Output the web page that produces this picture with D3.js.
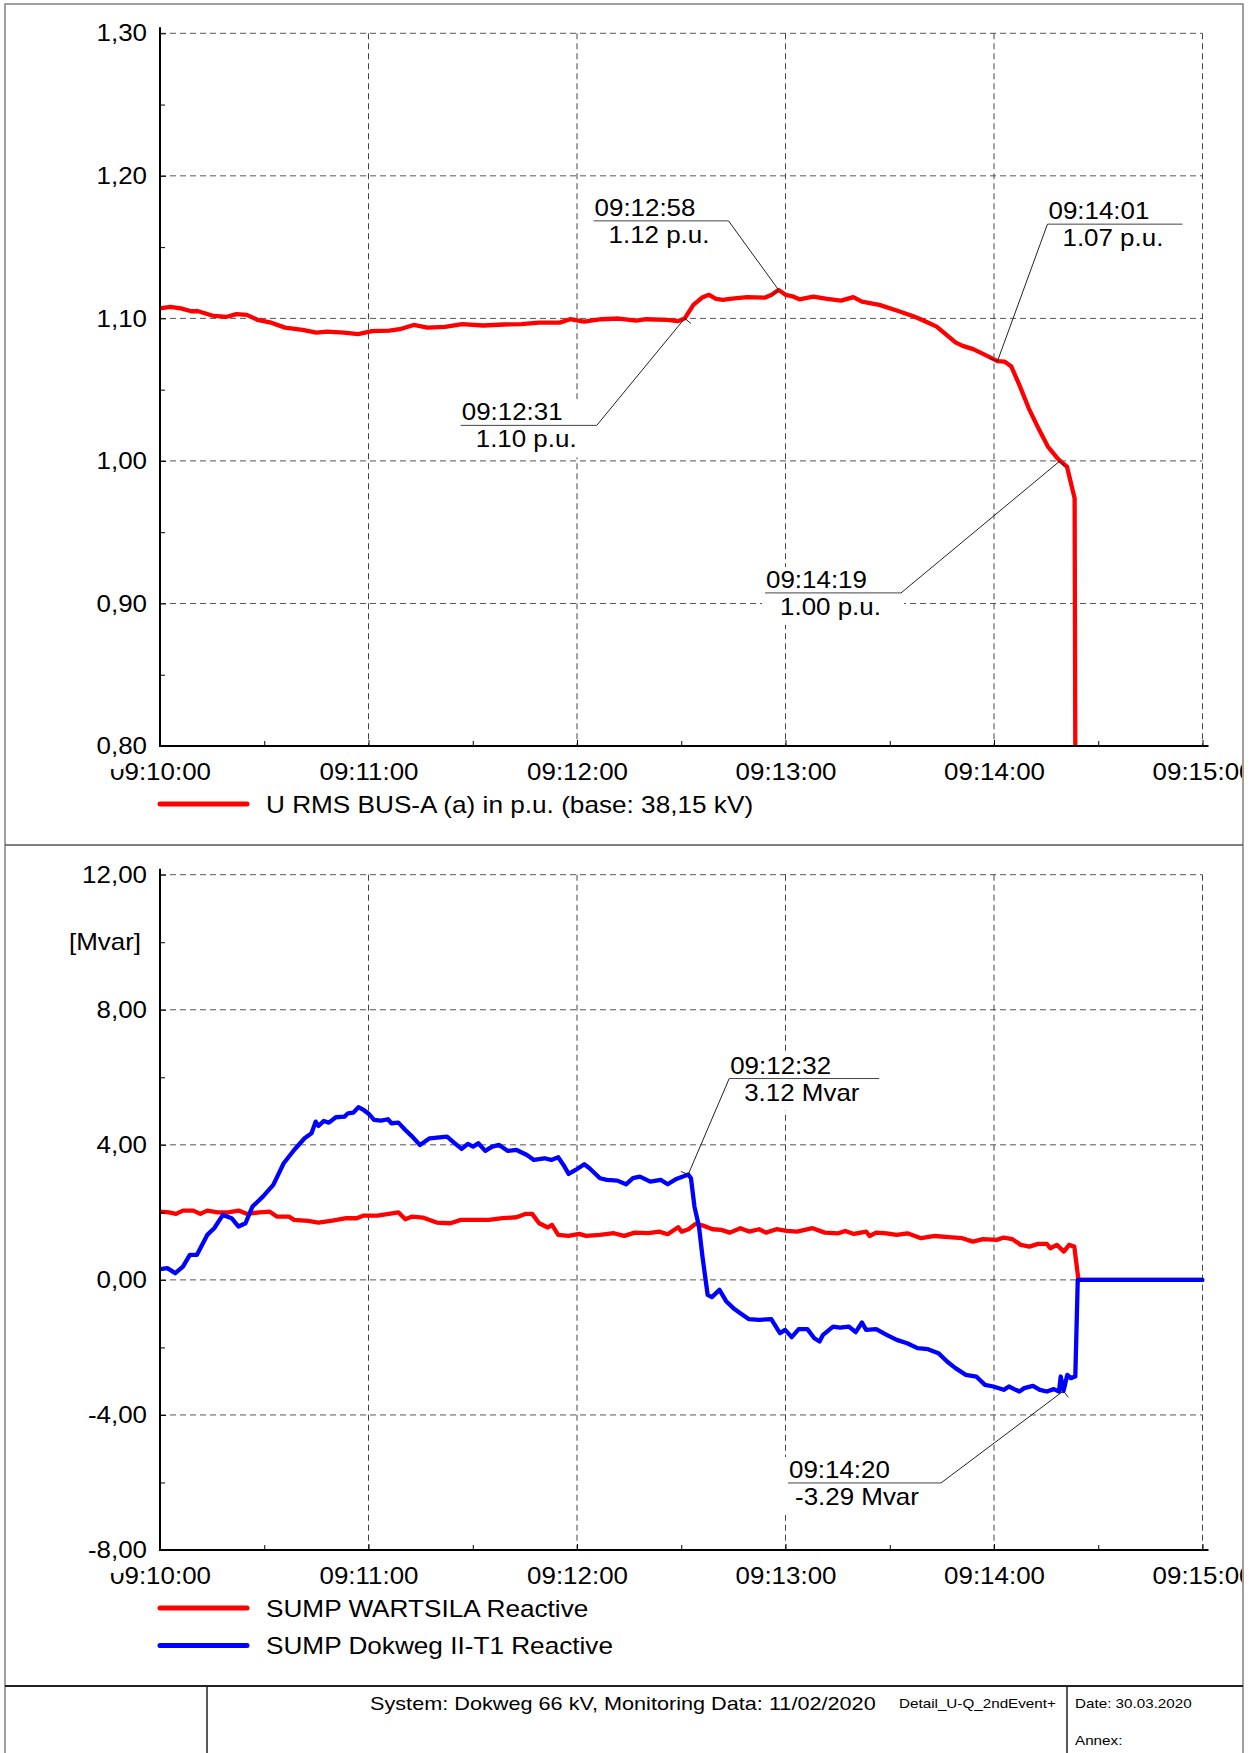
<!DOCTYPE html>
<html>
<head>
<meta charset="utf-8">
<script src="https://cdn.jsdelivr.net/npm/d3@7"></script>
<style>
  html, body { margin: 0; padding: 0; background: #fff; }
  svg { display: block; font-family: "Liberation Sans", Arial, Helvetica, sans-serif; }
</style>
</head>
<body>
<svg id="chart" width="1256" height="1753"></svg>
<script>
// ---------------------------------------------------------------------------
// Data: monitoring record 11/02/2020, 09:10:00 - 09:15:00
// Times are seconds after 09:10:00.
// ---------------------------------------------------------------------------
const recordDate = "2020-02-11";
const startClock = "09:10:00";
const endClock = "09:15:00";
const xTickLabels = ["09:10:00", "09:11:00", "09:12:00", "09:13:00", "09:14:00", "09:15:00"];
const voltTickValues = [0.80, 0.90, 1.00, 1.10, 1.20, 1.30];
const reactiveTickValues = [-8, -4, 0, 4, 8, 12];

// U RMS BUS-A (a) in p.u.
const voltT = [0, 3, 6, 9, 11, 15, 19, 22, 25, 28, 32, 36, 41, 45, 48, 53, 57, 61, 66, 69,
  73, 77, 82, 87, 93, 99, 104, 109, 115, 118, 122, 127, 132, 137, 140, 146, 149, 151, 153.5, 156,
  158, 160, 162, 164, 166, 169, 174, 176, 178, 180, 182, 184, 188, 192, 196, 199.5, 202, 207, 212, 217, 220, 223.5,
  226, 229, 231, 234, 237, 241, 243, 245, 247.5, 250, 253, 255.5, 258, 259, 261, 263.2, 263.4];
const voltV = [1.107, 1.108, 1.107, 1.105, 1.105, 1.102, 1.101, 1.103, 1.1025, 1.099, 1.097, 1.0935, 1.092, 1.090, 1.0907, 1.090, 1.089, 1.091, 1.0914, 1.0924,
  1.0954, 1.0935, 1.094, 1.096, 1.095, 1.0957, 1.096, 1.097, 1.097, 1.0994, 1.0978, 1.0994, 1.0999, 1.0984, 1.0994, 1.0989, 1.098, 1.100, 1.1095, 1.1146,
  1.1165, 1.1137, 1.113, 1.1137, 1.1142, 1.1149, 1.1145, 1.1165, 1.120, 1.1165, 1.1155, 1.1134, 1.1153, 1.1137, 1.1125, 1.1149, 1.1118, 1.1095, 1.1055, 1.1013, 1.0982, 1.0942,
  1.0891, 1.083, 1.0807, 1.0784, 1.0749, 1.070, 1.0697, 1.0662, 1.0521, 1.0369, 1.0218, 1.0101, 1.0026, 1.000, 0.996, 0.9738, 0.80];

// SUMP WARTSILA Reactive [Mvar]
const wartsilaT = [0, 2.6, 4.6, 6.6, 9.6, 11.6, 13.6, 16.6, 19.6, 22.6, 25.1, 28.6, 31.6, 33.6, 37.1, 38.6, 42.6, 45.6, 49.6, 53.6,
  56.6, 58.6, 62.6, 68.6, 70.6, 72.6, 75.6, 79.6, 83.6, 86.6, 90.6, 94.6, 98.6, 102.6, 105.1, 107.1, 109.1, 111.6, 112.8, 114.6,
  117.6, 120.6, 122.6, 126.6, 130.6, 133.6, 136.6, 140.6, 143.6, 146.1, 149.1, 150.1, 152.1, 154.1, 156.6, 159, 161.5, 164, 167, 169.5,
  172.4, 174.4, 177.4, 180.3, 183.3, 187.8, 191.3, 195.2, 197.2, 199.7, 203.2, 204.2, 206.1, 209.1, 212, 215.1, 219, 223, 226.9, 230.9,
  233.9, 236.8, 240.8, 242.8, 245.3, 247.7, 250.2, 252.7, 255.2, 256.2, 258.1, 260.1, 261.6, 263.1, 264.3, 300];
const wartsilaV = [2.02, 2.00, 1.954, 2.052, 2.052, 1.954, 2.052, 2.00, 2.00, 2.052, 1.954, 2.00, 2.02, 1.874, 1.874, 1.776, 1.747, 1.697, 1.756, 1.826,
  1.826, 1.904, 1.904, 2.00, 1.796, 1.874, 1.845, 1.697, 1.677, 1.776, 1.776, 1.776, 1.826, 1.855, 1.954, 1.954, 1.677, 1.55, 1.628, 1.332,
  1.303, 1.362, 1.303, 1.332, 1.382, 1.303, 1.40, 1.382, 1.43, 1.353, 1.56, 1.43, 1.50, 1.658, 1.599, 1.50, 1.48, 1.40, 1.53, 1.43,
  1.50, 1.40, 1.50, 1.45, 1.43, 1.53, 1.40, 1.38, 1.45, 1.36, 1.43, 1.30, 1.40, 1.38, 1.33, 1.38, 1.234, 1.30, 1.264, 1.234,
  1.134, 1.205, 1.184, 1.253, 1.205, 1.036, 0.986, 1.066, 1.066, 0.938, 1.036, 0.838, 1.036, 0.986, 0, 0];

// SUMP Dokweg II-T1 Reactive [Mvar]
const dokwegT = [0, 2.1, 4.4, 6.6, 8.6, 10.6, 13.6, 15.6, 18.1, 20.6, 22.6, 24.6, 26.6, 29.6, 32.6, 35.6, 38.6, 41.6, 43.6, 44.8,
  45.6, 47.1, 48.6, 50.6, 53.1, 54.1, 55.6, 57.1, 58.6, 60.1, 61.6, 63.6, 65.6, 66.6, 68.6, 70.6, 72.6, 74.8, 77.6, 82.6,
  84.6, 86.8, 88.6, 90.1, 91.6, 93.6, 95.6, 97.6, 100.1, 102.6, 105.6, 107.6, 110.6, 112.6, 114.6, 116.1, 117.6, 119.6, 122.1, 123.6,
  126.6, 128.6, 131.6, 134.1, 136.1, 138.1, 141.1, 144.1, 146.1, 148.6, 150.5, 152, 152.8, 153.8, 155.1, 156.1, 157.6, 158.8, 161, 163,
  165, 167, 169.5, 172.4, 175.9, 178.4, 179.9, 181.8, 183.8, 186.3, 188.3, 189.8, 190.8, 193.7, 195.7, 198.2, 200.2, 202, 203.2, 206.1,
  209.1, 212, 215, 218, 221, 224, 226.5, 228.9, 231.9, 234.9, 237.4, 239.8, 242.8, 244.3, 245.8, 247.3, 248.7, 251.2, 253.2, 255.2,
  257.2, 258.7, 259.2, 260, 261.1, 262.1, 263.4, 264.1, 300];
const dokwegV = [0.317, 0.346, 0.198, 0.395, 0.74, 0.74, 1.332, 1.53, 1.924, 1.826, 1.579, 1.677, 2.17, 2.466, 2.812, 3.454, 3.848, 4.194, 4.342, 4.687,
  4.559, 4.707, 4.657, 4.816, 4.835, 4.934, 4.953, 5.112, 5.033, 4.914, 4.737, 4.716, 4.757, 4.639, 4.657, 4.44, 4.243, 3.997, 4.194, 4.243,
  4.065, 3.878, 4.026, 3.946, 4.047, 3.819, 3.946, 3.997, 3.819, 3.848, 3.70, 3.552, 3.602, 3.552, 3.632, 3.404, 3.138, 3.256, 3.424, 3.306,
  3.011, 2.96, 2.94, 2.832, 3.011, 3.058, 2.911, 2.96, 2.832, 2.99, 3.06, 3.12, 3.01, 2.17, 1.58, 0.69, -0.444, -0.512, -0.296, -0.642,
  -0.838, -0.986, -1.164, -1.184, -1.164, -1.578, -1.48, -1.697, -1.46, -1.46, -1.727, -1.826, -1.628, -1.382, -1.411, -1.382, -1.549, -1.263, -1.48, -1.46,
  -1.628, -1.776, -1.875, -2.022, -2.052, -2.17, -2.418, -2.614, -2.812, -2.862, -3.108, -3.158, -3.256, -3.158, -3.236, -3.306, -3.206, -3.138, -3.256, -3.306,
  -3.236, -3.306, -2.862, -3.29, -2.812, -2.91, -2.862, 0, 0];

// Marked readings
const voltMarkTimes = ["09:12:58", "09:14:01", "09:12:31", "09:14:19"];
const voltMarkValues = [1.12, 1.07, 1.10, 1.00];
const reactiveMarkTimes = ["09:12:32", "09:14:20"];
const reactiveMarkValues = [3.12, -3.29];

// Text
const voltLegend = "U RMS BUS-A (a) in p.u. (base: 38,15 kV)";
const reactiveLegend = ["SUMP WARTSILA Reactive", "SUMP Dokweg II-T1 Reactive"];
const footerMain = "System: Dokweg 66 kV, Monitoring Data: 11/02/2020";
const footerDoc = "Detail_U-Q_2ndEvent+";
const footerDate = "Date: 30.03.2020";
const footerAnnex = "Annex:";

// ---------------------------------------------------------------------------
// Layout / style
// ---------------------------------------------------------------------------
const RED = "#ff0000", BLUE = "#0000ff";
const FONT = 24;
const parseClock = d3.timeParse("%Y-%m-%d %H:%M:%S");
const clock = s => parseClock(recordDate + " " + s);
const t0 = clock(startClock);
const at = s => new Date(t0.getTime() + s * 1000);
const fmtClock = d3.timeFormat("%H:%M:%S");
const fmtComma = d3.formatLocale({decimal: ",", thousands: ".", grouping: [3], currency: ["", ""], minus: "-"}).format(".2f");
const fmtDot = d3.formatLocale({decimal: ".", thousands: ",", grouping: [3], currency: ["", ""], minus: "-"}).format(".2f");

const svg = d3.select("#chart");
const W = 1256, H = 1753;
const frameL = 5, frameR = 1243, frameT = 4;

const x = d3.scaleTime().domain([t0, clock(endClock)]).range([160, 1202.5]);
const xMajor = xTickLabels.map(clock);
const xMinor = d3.range(30, 300, 60).map(at);

const yVolt = d3.scaleLinear().domain([0.8, 1.3]).range([746, 33.3]);
const yReact = d3.scaleLinear().domain([-8, 12]).range([1550, 874.7]);

// clip everything to the inside of the sheet frame
svg.append("defs").append("clipPath").attr("id", "sheet")
  .append("rect").attr("x", frameL).attr("y", frameT).attr("width", frameR - frameL - 1).attr("height", H);
const root = svg.append("g").attr("clip-path", "url(#sheet)");

function drawPanel(opt) {
  const g = root.append("g");
  const y = opt.y;
  const [yb, yt] = y.range();
  const [xl, xr] = x.range();

  // grid
  g.append("g").selectAll("line").data(opt.grid).join("line")
    .attr("x1", xl).attr("x2", xr).attr("y1", d => y(d)).attr("y2", d => y(d))
    .attr("stroke", "#555").attr("stroke-width", 1).attr("stroke-dasharray", "6,4");
  g.append("g").selectAll("line").data(xMajor.slice(1)).join("line")
    .attr("x1", d => x(d)).attr("x2", d => x(d)).attr("y1", yt).attr("y2", yb)
    .attr("stroke", "#444").attr("stroke-width", 1).attr("stroke-dasharray", "6,4");

  // callout geometry
  const marks = opt.marks.map((m, i) => {
    const L = opt.layout[i];
    const px = x(clock(m.time)), py = y(m.value);
    const x0 = px + L.dx, yU = py + L.dy;
    return {...m, px, py, x0, yU, w: L.w, from: L.from};
  });

  // white plates behind callout text
  g.append("g").selectAll("rect").data(marks).join("rect")
    .attr("x", d => d.x0 - 3).attr("y", d => d.yU - 26)
    .attr("width", d => d.w + 6).attr("height", 58).attr("fill", "#fff");

  // series
  const clipId = "plot" + opt.id;
  g.append("clipPath").attr("id", clipId).append("rect")
    .attr("x", xl).attr("y", yt - 4).attr("width", xr - xl + 2).attr("height", yb - yt + 4);
  const line = d3.line().x(d => x(at(d[0]))).y(d => y(d[1]));
  opt.series.forEach(s => {
    g.append("path").datum(d3.zip(s.t, s.v))
      .attr("clip-path", `url(#${clipId})`)
      .attr("d", line).attr("fill", "none").attr("stroke", s.color)
      .attr("stroke-width", 4.3).attr("stroke-linejoin", "round").attr("stroke-linecap", "round");
  });

  // axes
  const ya = g.append("g").attr("transform", `translate(${xl},0)`)
    .call(d3.axisLeft(y).tickValues(opt.yTicks).tickSize(-6).tickSizeOuter(0).tickPadding(13).tickFormat(fmtComma));
  ya.select(".domain").remove();
  ya.selectAll("line").attr("stroke", "#000");
  ya.selectAll("text").attr("font-size", FONT).attr("fill", "#000").attr("font-family", null).attr("data-sx", 1.08);
  const ym = g.append("g").attr("transform", `translate(${xl},0)`)
    .call(d3.axisLeft(y).tickValues(opt.yMinor).tickSize(-5).tickSizeOuter(0).tickFormat(""));
  ym.select(".domain").remove();
  ym.selectAll("line").attr("stroke", "#000");

  const xa = g.append("g").attr("transform", `translate(0,${yb})`)
    .call(d3.axisBottom(x).tickValues(xMajor).tickSize(-6).tickSizeOuter(0).tickPadding(17).tickFormat(fmtClock));
  xa.select(".domain").remove();
  xa.selectAll("line").attr("stroke", "#000");
  xa.selectAll("text").attr("font-size", FONT).attr("fill", "#000").attr("font-family", null).attr("data-sx", 1.08);
  const xm = g.append("g").attr("transform", `translate(0,${yb})`)
    .call(d3.axisBottom(x).tickValues(xMinor).tickSize(-5).tickSizeOuter(0).tickFormat(""));
  xm.select(".domain").remove();
  xm.selectAll("line").attr("stroke", "#000");

  // plate under the lowest value label, overlapping the first time label
  g.append("rect").attr("x", 100).attr("y", yb + 14).attr("width", 23).attr("height", 9).attr("fill", "#fff");

  g.append("line").attr("x1", xl).attr("x2", xl).attr("y1", yt - 6).attr("y2", yb + 1)
    .attr("stroke", "#000").attr("stroke-width", 2);
  g.append("line").attr("x1", xl - 1).attr("x2", xr + 6).attr("y1", yb).attr("y2", yb)
    .attr("stroke", "#000").attr("stroke-width", 2);

  // callouts
  const cg = g.append("g");
  marks.forEach(d => {
    const lx = d.from === "right" ? d.x0 + d.w : d.x0;
    cg.append("line").attr("x1", d.x0).attr("x2", d.x0 + d.w).attr("y1", d.yU).attr("y2", d.yU)
      .attr("stroke", "#444").attr("stroke-width", 1);
    cg.append("line").attr("x1", lx).attr("y1", d.yU).attr("x2", d.px).attr("y2", d.py)
      .attr("stroke", "#222").attr("stroke-width", 1);
    const dx = lx - d.px, dy = d.yU - d.py, len = Math.hypot(dx, dy);
    const ux = dx / len, uy = dy / len;
    cg.append("line").attr("x1", d.px).attr("y1", d.py)
      .attr("x2", d.px + uy * 8).attr("y2", d.py - ux * 8)
      .attr("stroke", "#222").attr("stroke-width", 1);
    cg.append("text").attr("x", d.x0 + 1).attr("y", d.yU - 5)
      .attr("font-size", FONT).attr("data-sx", 1.08).text(fmtClock(clock(d.time)));
    cg.append("text").attr("x", d.x0 + (d.value < 0 ? 7 : 15)).attr("y", d.yU + 22)
      .attr("font-size", FONT).attr("data-sx", 1.08).text(fmtDot(d.value) + " " + opt.unit);
  });

  // legend
  opt.legend.forEach((l, i) => {
    const ly = opt.legendY + i * 37.5;
    g.append("line").attr("x1", 160).attr("x2", 247).attr("y1", ly).attr("y2", ly)
      .attr("stroke", l.color).attr("stroke-width", 5).attr("stroke-linecap", "round");
    g.append("text").attr("x", 266).attr("y", ly + 8.5).attr("font-size", FONT).attr("data-sx", 1.09).text(l.label);
  });
  return g;
}

// voltage panel
drawPanel({
  id: "U", y: yVolt, unit: "p.u.",
  yTicks: voltTickValues,
  yMinor: d3.range(0.85, 1.3, 0.1),
  grid: voltTickValues.slice(1),
  series: [{t: voltT, v: voltV, color: RED}],
  marks: voltMarkTimes.map((t, i) => ({time: t, value: voltMarkValues[i]})),
  layout: [
    {dx: -185, dy: -69, w: 135, from: "right"},
    {dx: 50, dy: -137, w: 135, from: "left"},
    {dx: -224, dy: 107, w: 136, from: "right"},
    {dx: -295, dy: 132, w: 136, from: "right"}
  ],
  legendY: 804,
  legend: [{label: voltLegend, color: RED}]
});

// reactive power panel
const qPanel = drawPanel({
  id: "Q", y: yReact, unit: "Mvar",
  yTicks: reactiveTickValues,
  yMinor: [-6, -2, 2, 6, 10],
  grid: reactiveTickValues.slice(1),
  series: [{t: wartsilaT, v: wartsilaV, color: RED}, {t: dokwegT, v: dokwegV, color: BLUE}],
  marks: reactiveMarkTimes.map((t, i) => ({time: t, value: reactiveMarkValues[i]})),
  layout: [
    {dx: 41, dy: -96, w: 150, from: "left"},
    {dx: -275.5, dy: 92, w: 153, from: "right"}
  ],
  legendY: 1608,
  legend: [{label: reactiveLegend[0], color: RED}, {label: reactiveLegend[1], color: BLUE}]
});
qPanel.append("text").attr("x", 141).attr("y", 950).attr("text-anchor", "end")
  .attr("font-size", FONT).attr("data-sx", 1.08).text("[Mvar]");

// sheet frame and title block
const fr = svg.append("g").attr("fill", "none");
fr.append("rect").attr("x", frameL).attr("y", frameT).attr("width", frameR - frameL).attr("height", H)
  .attr("stroke", "#808080").attr("stroke-width", 1.5);
fr.append("line").attr("x1", frameL).attr("x2", frameR).attr("y1", 845).attr("y2", 845)
  .attr("stroke", "#555").attr("stroke-width", 1.5);
fr.append("line").attr("x1", frameL).attr("x2", frameR).attr("y1", 1686).attr("y2", 1686)
  .attr("stroke", "#222").attr("stroke-width", 2);
fr.append("line").attr("x1", 207).attr("x2", 207).attr("y1", 1686).attr("y2", H)
  .attr("stroke", "#222").attr("stroke-width", 1.5);
fr.append("line").attr("x1", 1067).attr("x2", 1067).attr("y1", 1686).attr("y2", H)
  .attr("stroke", "#222").attr("stroke-width", 1.5);

const ft = svg.append("g").attr("fill", "#000");
ft.append("text").attr("x", 370).attr("y", 1710).attr("font-size", 19).attr("data-sx", 1.14).text(footerMain);
ft.append("text").attr("x", 899).attr("y", 1708).attr("font-size", 13).attr("data-sx", 1.17).text(footerDoc);
ft.append("text").attr("x", 1075).attr("y", 1708).attr("font-size", 13).attr("data-sx", 1.17).text(footerDate);
ft.append("text").attr("x", 1075).attr("y", 1745).attr("font-size", 13).attr("data-sx", 1.17).text(footerAnnex);

// widen glyphs slightly to the sheet's letter proportions
svg.selectAll("text[data-sx]").each(function () {
  const k = +this.getAttribute("data-sx");
  const w = this.getComputedTextLength();
  if (w > 0) {
    this.setAttribute("textLength", (w * k).toFixed(1));
    this.setAttribute("lengthAdjust", "spacingAndGlyphs");
  }
});
</script>
</body>
</html>
